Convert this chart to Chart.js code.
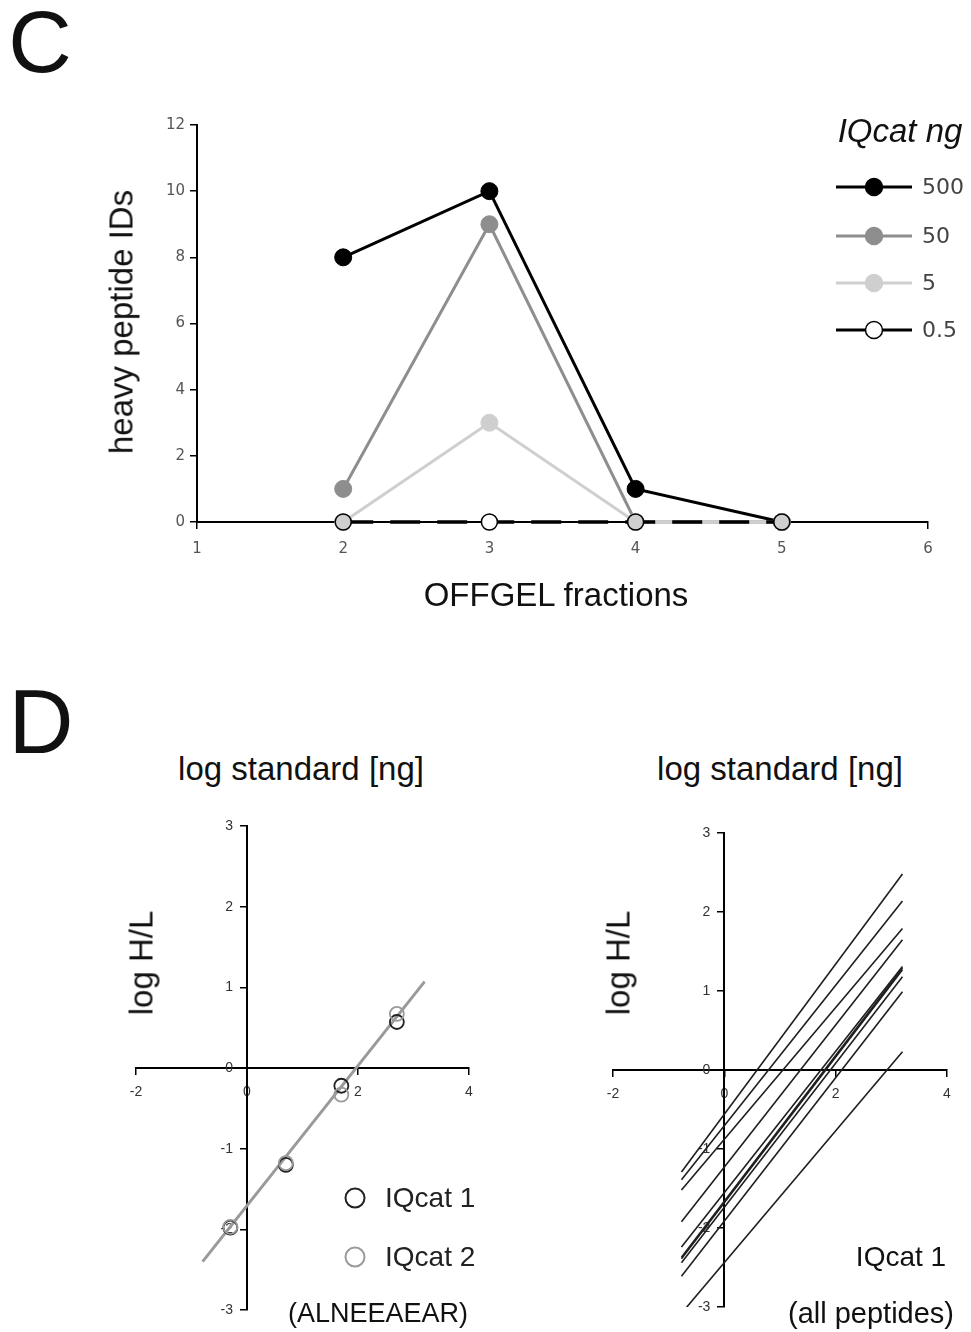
<!DOCTYPE html>
<html lang="en">
<head>
<meta charset="UTF-8">
<title>IQcat heavy peptide IDs and log H/L</title>
<script src="https://cdn.jsdelivr.net/npm/chart.js"></script>
<style>
    body {
        margin: 0;
        background: #fff;
        font-family: 'Liberation Sans', Arial, sans-serif;
    }
    #page {
        position: relative;
        width: 971px;
        height: 1332px;
        overflow: hidden;
        background: #fff;
    }
    canvas { position: absolute; }
    .txt {
        position: absolute;
        white-space: nowrap;
        line-height: 1;
        color: #111;
        transform: translate(-50%, -50%);
    }
    .rot { transform: translate(-50%, -50%) rotate(-90deg); }
</style>
</head>
<body>
<div id="page">
    <canvas id="chartC" width="971" height="640" style="left:0;top:0"></canvas>
    <canvas id="chartDL" width="490" height="542" style="left:0;top:790px"></canvas>
    <canvas id="chartDR" width="481" height="542" style="left:490px;top:790px"></canvas>

    <div class="txt" style="left:40px;top:42px;font-size:88px">C</div>
    <div class="txt rot" style="left:121px;top:322px;font-size:33px">heavy peptide IDs</div>
    <div class="txt" style="left:556px;top:594px;font-size:33px">OFFGEL fractions</div>
    <div class="txt" style="left:900px;top:130px;font-size:33px;font-style:italic">IQcat ng</div>

    <div class="txt" style="left:41px;top:722px;font-size:90px">D</div>
    <div class="txt" style="left:301px;top:768px;font-size:33px">log standard [ng]</div>
    <div class="txt" style="left:780px;top:768px;font-size:33px">log standard [ng]</div>
    <div class="txt rot" style="left:141px;top:963px;font-size:33px">log H/L</div>
    <div class="txt rot" style="left:618px;top:963px;font-size:33px">log H/L</div>
    <div class="txt" style="left:378px;top:1313px;font-size:27px">(ALNEEAEAR)</div>
    <div class="txt" style="left:901px;top:1257px;font-size:28px">IQcat 1</div>
    <div class="txt" style="left:871px;top:1313px;font-size:29px">(all peptides)</div>
</div>

<script>
    // --- C: heavy peptide IDs per OFFGEL fraction ---
    const fractions = [2, 3, 4, 5];
    const ids500 = [8, 10, 1, 0];
    const ids50 = [1, 9, 0, 0];
    const ids5 = [0, 3, 0, 0];
    const ids05 = [0, 0, 0, 0];

    // --- D left: ALNEEAEAR, log standard vs log H/L ---
    const logStandard = [-0.3, 0.7, 1.7, 2.7];
    const iqcat1 = [-1.98, -1.20, -0.22, 0.57];
    const iqcat2 = [-1.97, -1.18, -0.33, 0.67];
    const fitX = [-0.8, 3.2];
    const fitY = [-2.4, 1.07];

    // --- D right: regression lines of all peptides (IQcat 1) ---
    const peptideX = [-0.77, 3.2];
    const peptideStart = [-1.29, -1.39, -1.52, -1.92, -2.24, -2.37, -2.39, -2.44, -2.61, -3.08];
    const peptideEnd = [2.48, 2.14, 1.79, 1.65, 1.31, 1.29, 1.27, 1.18, 0.99, 0.23];

    const pts = (xs, ys) => xs.map((x, i) => ({ x: x, y: ys[i] }));

    // legend drawn at fixed spots inside the canvas
    const pointLegend = {
        id: 'pointLegend',
        afterDraw(chart, args, opts) {
            if (!opts.items) return;
            const c = chart.ctx;
            c.save();
            opts.items.forEach(it => {
                const ds = chart.data.datasets[it.dataset];
                let fill = ds.pointBackgroundColor;
                if (typeof fill === 'function') fill = '#fff';
                if (opts.line) {
                    c.strokeStyle = ds.borderColor;
                    c.lineWidth = 3;
                    c.beginPath();
                    c.moveTo(it.x - opts.line, it.y);
                    c.lineTo(it.x + opts.line, it.y);
                    c.stroke();
                }
                c.beginPath();
                c.arc(it.x, it.y, opts.radius, 0, Math.PI * 2);
                c.fillStyle = fill;
                c.fill();
                c.lineWidth = opts.borderWidth;
                c.strokeStyle = ds.pointBorderColor;
                c.stroke();
                c.fillStyle = opts.color;
                c.font = opts.font;
                c.textAlign = 'left';
                c.textBaseline = 'middle';
                c.fillText(ds.label, it.textX, it.y + 1);
            });
            c.restore();
        }
    };

    // y tick labels left of a y axis that sits at a data position
    // (chart.js puts them right on the axis line otherwise)
    const yLabels = {
        id: 'yLabels',
        beforeDatasetsDraw(chart, args, opts) {
            const s = chart.scales.y;
            const ax = chart.scales.x.getPixelForValue(s.options.position.x);
            const c = chart.ctx;
            c.save();
            c.font = opts.size + 'px "' + opts.family + '"';
            c.fillStyle = opts.color;
            c.textAlign = 'right';
            c.textBaseline = 'middle';
            s.ticks.forEach(t => c.fillText(t.label, ax - opts.offset, s.getPixelForValue(t.value)));
            c.restore();
        }
    };

    function axis(pos, min, max, step, font, padding, showLabels) {
        return {
            type: 'linear',
            position: pos,
            min: min,
            max: max,
            ticks: {
                display: showLabels, stepSize: step, color: font.color,
                font: { family: font.family, size: font.size }, padding: padding
            },
            grid: { drawOnChartArea: false, drawTicks: true, tickLength: 6, color: '#000', lineWidth: 1.5 },
            border: { display: true, color: '#000', width: 2 }
        };
    }

    const cTickFont = { family: 'DejaVu Sans', size: 15, color: '#555' };
    const dTickFont = { family: 'Liberation Sans', size: 14, color: '#333' };

    new Chart(document.getElementById('chartC'), {
        type: 'line',
        data: {
            datasets: [
                {
                    label: '500', data: pts(fractions, ids500),
                    borderColor: '#000', borderWidth: 3,
                    pointRadius: 8.5, pointBackgroundColor: '#000', pointBorderColor: '#000', pointBorderWidth: 1,
                    order: 2, clip: false
                },
                {
                    label: '50', data: pts(fractions, ids50),
                    borderColor: '#8e8e8e', borderWidth: 3,
                    pointRadius: 8.5, pointBackgroundColor: '#8e8e8e', pointBorderColor: '#8e8e8e', pointBorderWidth: 1,
                    order: 3, clip: false
                },
                {
                    label: '5', data: pts(fractions, ids5),
                    borderColor: '#cfcfcf', borderWidth: 3,
                    pointRadius: 8.5, pointBackgroundColor: '#cfcfcf', pointBorderColor: '#cfcfcf', pointBorderWidth: 1,
                    order: 1, clip: false
                },
                {
                    label: '0.5', data: pts(fractions, ids05),
                    borderColor: '#000', borderWidth: 3.5, borderDash: [30, 17],
                    pointRadius: 8, pointBorderColor: '#000', pointBorderWidth: 1.5,
                    // marker hides behind the light grey 5 ng marker where both sit at the same value
                    pointBackgroundColor: c => ids5[c.dataIndex] === ids05[c.dataIndex] ? '#cfcfcf' : '#fff',
                    order: 0, clip: false
                }
            ]
        },
        options: {
            responsive: false,
            animation: false,
            layout: { padding: { left: 197, right: 43, top: 125, bottom: 118 } },
            plugins: {
                legend: { display: false },
                tooltip: { enabled: false },
                yLabels: { family: 'DejaVu Sans', size: 15, color: '#555', offset: 12 },
                pointLegend: {
                    line: 38, radius: 8.5, borderWidth: 1.5, color: '#444',
                    font: '22px "DejaVu Sans"',
                    items: [
                        { dataset: 0, x: 874, y: 187, textX: 922 },
                        { dataset: 1, x: 874, y: 236, textX: 922 },
                        { dataset: 2, x: 874, y: 283, textX: 922 },
                        { dataset: 3, x: 874, y: 330, textX: 922 }
                    ]
                }
            },
            scales: {
                x: axis({ y: 0 }, 1, 6, 1, cTickFont, 12, true),
                y: axis({ x: 1 }, 0, 12, 2, cTickFont, 8, false)
            }
        },
        plugins: [pointLegend, yLabels]
    });

    new Chart(document.getElementById('chartDL'), {
        type: 'line',
        data: {
            datasets: [
                {
                    label: 'fit', data: pts(fitX, fitY),
                    borderColor: '#9a9a9a', borderWidth: 3, pointRadius: 0, order: 2
                },
                {
                    label: 'IQcat 1', data: pts(logStandard, iqcat1), showLine: false,
                    pointRadius: 7, pointBackgroundColor: 'rgba(0,0,0,0)', pointBorderColor: '#222', pointBorderWidth: 1.8,
                    order: 1
                },
                {
                    label: 'IQcat 2', data: pts(logStandard, iqcat2), showLine: false,
                    pointRadius: 7, pointBackgroundColor: 'rgba(0,0,0,0)', pointBorderColor: '#9a9a9a', pointBorderWidth: 1.8,
                    order: 0
                }
            ]
        },
        options: {
            responsive: false,
            animation: false,
            layout: { padding: { left: 136, right: 21, top: 36, bottom: 22 } },
            plugins: {
                legend: { display: false },
                tooltip: { enabled: false },
                yLabels: { family: 'Liberation Sans', size: 14, color: '#333', offset: 14 },
                pointLegend: {
                    radius: 9.5, borderWidth: 2, color: '#222',
                    font: '28px "Liberation Sans"',
                    items: [
                        { dataset: 1, x: 355, y: 408, textX: 385 },
                        { dataset: 2, x: 355, y: 467, textX: 385 }
                    ]
                }
            },
            scales: {
                x: axis({ y: 0 }, -2, 4, 2, dTickFont, 10, true),
                y: axis({ x: 0 }, -3, 3, 1, dTickFont, 8, false)
            }
        },
        plugins: [pointLegend, yLabels]
    });

    new Chart(document.getElementById('chartDR'), {
        type: 'line',
        data: {
            datasets: peptideStart.map((y0, i) => ({
                label: 'peptide ' + (i + 1),
                data: pts(peptideX, [y0, peptideEnd[i]]),
                borderColor: '#1e1e1e', borderWidth: 1.6, pointRadius: 0
            }))
        },
        options: {
            responsive: false,
            animation: false,
            layout: { padding: { left: 123, right: 24, top: 43, bottom: 25 } },
            plugins: {
                legend: { display: false },
                tooltip: { enabled: false },
                yLabels: { family: 'Liberation Sans', size: 14, color: '#333', offset: 14 }
            },
            scales: {
                x: axis({ y: 0 }, -2, 4, 2, dTickFont, 10, true),
                y: axis({ x: 0 }, -3, 3, 1, dTickFont, 8, false)
            }
        },
        plugins: [yLabels]
    });
</script>
</body>
</html>
